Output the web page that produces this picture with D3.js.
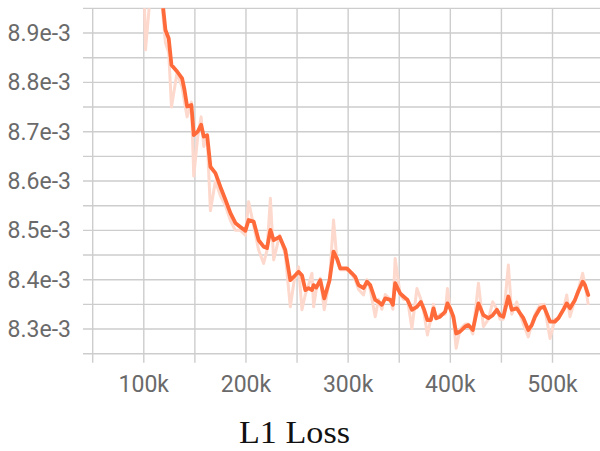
<!DOCTYPE html>
<html>
<head>
<meta charset="utf-8">
<script src="https://cdn.jsdelivr.net/npm/d3@7/dist/d3.min.js"></script>
<style>
  html, body { margin: 0; padding: 0; background: #fff; }
  svg { display: block; }
</style>
</head>
<body>
<svg id="chart" width="600" height="451"></svg>
<script>
// Training steps (in thousands) for each logged point
const steps = [
  96.8, 101.7, 111.4, 119.0, 121.2, 124.4, 127.1, 132.6, 137.5, 139.8,
  142.4, 146.6, 148.9, 152.8, 156.1, 158.7, 162.0, 165.2, 170.1, 175.0,
  179.9, 184.8, 189.6, 194.5, 199.4, 202.6, 207.5, 212.4, 217.3, 220.6,
  223.9, 227.1, 232.9, 238.5, 243.4, 247.3, 251.5, 254.8, 258.1, 261.3,
  264.6, 266.2, 268.8, 272.7, 276.6, 281.8, 285.7, 289.0, 292.3, 298.8,
  303.7, 306.9, 310.2, 315.1, 318.4, 321.6, 326.5, 329.7, 333.0, 336.3,
  341.2, 343.8, 346.0, 350.9, 354.2, 358.1, 362.4, 367.3, 371.2, 374.4,
  377.6, 380.9, 383.5, 386.1, 390.0, 394.9, 397.2, 399.8, 403.0, 405.7,
  409.6, 414.5, 417.7, 422.0, 427.5, 432.4, 437.3, 441.5, 445.5, 448.7,
  451.9, 456.8, 460.1, 465.0, 468.2, 471.5, 476.3, 479.7, 482.9, 487.8,
  491.7, 497.6, 502.4, 505.7, 510.6, 513.9, 517.1, 522.0, 525.2, 529.5,
  531.8, 535.0
];

// Smoothed L1 loss (units of 1e-3)
const smoothed = [
  9.300, 9.200, 9.050, 8.950, 8.906, 8.889, 8.835, 8.822, 8.808, 8.785,
  8.751, 8.754, 8.693, 8.700, 8.714, 8.690, 8.693, 8.629, 8.616, 8.588,
  8.562, 8.535, 8.515, 8.507, 8.499, 8.521, 8.518, 8.480, 8.467, 8.464,
  8.501, 8.480, 8.487, 8.460, 8.399, 8.407, 8.416, 8.409, 8.379, 8.383,
  8.379, 8.389, 8.384, 8.399, 8.362, 8.399, 8.457, 8.443, 8.423, 8.423,
  8.413, 8.406, 8.389, 8.383, 8.396, 8.389, 8.359, 8.355, 8.349, 8.362,
  8.359, 8.349, 8.393, 8.372, 8.366, 8.359, 8.339, 8.345, 8.355, 8.339,
  8.318, 8.318, 8.342, 8.322, 8.325, 8.335, 8.352, 8.342, 8.325, 8.291,
  8.295, 8.305, 8.308, 8.298, 8.352, 8.328, 8.322, 8.328, 8.339, 8.328,
  8.325, 8.366, 8.339, 8.342, 8.332, 8.322, 8.298, 8.308, 8.325, 8.342,
  8.345, 8.315, 8.315, 8.322, 8.339, 8.352, 8.342, 8.359, 8.376, 8.396,
  8.389, 8.369
];

// Raw (unsmoothed) L1 loss (units of 1e-3)
const raw = [
  9.300, 8.866, 9.100, 8.930, 8.880, 8.860, 8.750, 8.820, 8.790, 8.760,
  8.730, 8.760, 8.610, 8.690, 8.730, 8.670, 8.690, 8.540, 8.600, 8.570,
  8.550, 8.520, 8.500, 8.500, 8.490, 8.558, 8.510, 8.460, 8.433, 8.460,
  8.565, 8.440, 8.490, 8.450, 8.345, 8.400, 8.426, 8.339, 8.370, 8.390,
  8.413, 8.345, 8.380, 8.403, 8.339, 8.400, 8.521, 8.440, 8.420, 8.420,
  8.410, 8.400, 8.380, 8.369, 8.400, 8.380, 8.325, 8.360, 8.340, 8.370,
  8.360, 8.340, 8.443, 8.370, 8.360, 8.360, 8.301, 8.382, 8.360, 8.330,
  8.288, 8.320, 8.350, 8.320, 8.330, 8.330, 8.382, 8.340, 8.320, 8.261,
  8.300, 8.310, 8.310, 8.290, 8.393, 8.305, 8.320, 8.355, 8.340, 8.320,
  8.320, 8.430, 8.330, 8.355, 8.330, 8.310, 8.284, 8.310, 8.330, 8.349,
  8.350, 8.281, 8.320, 8.320, 8.340, 8.369, 8.325, 8.360, 8.380, 8.413,
  8.390, 8.349
];

// Axis ticks
const xTicks = [100, 200, 300, 400, 500];          // labelled steps (k)
const xGrid = [50, 100, 150, 200, 250, 300, 350, 400, 450, 500, 550];
const yTicks = [8.3, 8.4, 8.5, 8.6, 8.7, 8.8, 8.9];  // labelled values (e-3)
const yGrid = [8.25, 8.3, 8.35, 8.4, 8.45, 8.5, 8.55, 8.6, 8.65, 8.7, 8.75, 8.8, 8.85, 8.9, 8.95];
const title = "L1 Loss";

const svg = d3.select("#chart");
const plot = { left: 83, right: 600, top: 8.35, bottom: 353.7 };

const x = d3.scaleLinear().domain([50, 550]).range([92.7, 603.6]);
const y = d3.scaleLinear().domain([8.25, 8.95]).range([plot.bottom, plot.top]);

const gridColor = "#cdcdcd";

// Horizontal grid lines
svg.append("g").selectAll("line").data(yGrid).join("line")
  .attr("x1", plot.left).attr("x2", plot.right)
  .attr("y1", d => y(d)).attr("y2", d => y(d))
  .attr("stroke", gridColor).attr("stroke-width", 1.4);

// Vertical grid lines, extending below the axis as ticks
svg.append("g").selectAll("line").data(xGrid).join("line")
  .attr("x1", d => x(d)).attr("x2", d => x(d))
  .attr("y1", plot.top).attr("y2", plot.bottom + 9)
  .attr("stroke", gridColor).attr("stroke-width", 1.4);

// Y tick labels
svg.append("g").selectAll("text").data(yTicks).join("text")
  .attr("x", 71).attr("y", d => y(d))
  .attr("dy", "0.35em")
  .attr("text-anchor", "end")
  .attr("font-family", "Roboto, sans-serif")
  .attr("font-size", 23)
  .attr("fill", "#6a6a6a")
  .text(d => d.toFixed(1) + "e-3");

// X tick labels
svg.append("g").selectAll("text").data(xTicks).join("text")
  .attr("x", d => x(d)).attr("y", 392)
  .attr("text-anchor", "middle")
  .attr("font-family", "Roboto, sans-serif")
  .attr("font-size", 23)
  .attr("fill", "#6a6a6a")
  .text(d => d + "k");

// Clip the loss curves to the plot area
svg.append("defs").append("clipPath").attr("id", "plotClip")
  .append("rect")
  .attr("x", plot.left).attr("y", plot.top)
  .attr("width", plot.right - plot.left)
  .attr("height", plot.bottom - plot.top);

const lossLine = d3.line().x((d, i) => x(steps[i])).y(d => y(d));
const curves = svg.append("g").attr("clip-path", "url(#plotClip)");

curves.append("path")
  .datum(raw)
  .attr("d", lossLine)
  .attr("fill", "none")
  .attr("stroke", "#fdd8cc")
  .attr("stroke-width", 3)
  .attr("stroke-linejoin", "round");

curves.append("path")
  .datum(smoothed)
  .attr("d", lossLine)
  .attr("fill", "none")
  .attr("stroke", "#ff6a3a")
  .attr("stroke-width", 3.8)
  .attr("stroke-linejoin", "round")
  .attr("stroke-linecap", "round");

// Caption
svg.append("text")
  .attr("x", 294.5).attr("y", 443)
  .attr("text-anchor", "middle")
  .attr("font-family", "'Liberation Serif', 'Times New Roman', serif")
  .attr("font-size", 31)
  .attr("textLength", 111)
  .attr("lengthAdjust", "spacingAndGlyphs")
  .attr("fill", "#111")
  .text(title);
</script>
</body>
</html>
